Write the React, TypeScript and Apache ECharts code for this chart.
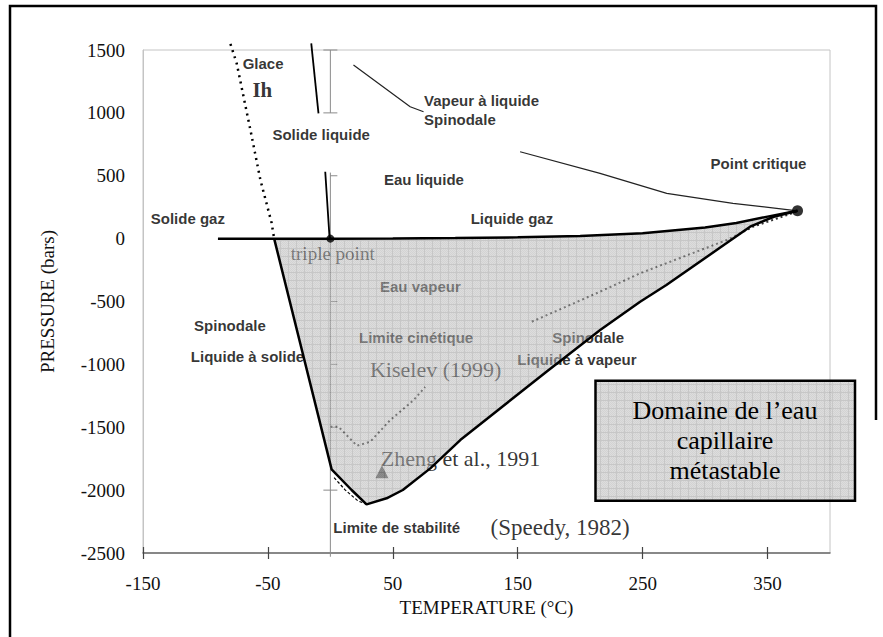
import React, { useEffect, useRef } from 'react';
import * as echarts from 'echarts';

// ---------- data (temperature °C, pressure bars) ----------
const xTickValues = [-150, -50, 50, 150, 250, 350];
const yMin = -2500;
const yMax = 1500;

// liquid–gas (and solid–gas) coexistence line up to the critical point
const tempLiquideGaz = [-90, -45, 0, 50, 100, 150, 200, 250, 300, 325, 350, 374];
const presLiquideGaz = [0, 0, 0, 1, 4, 10, 20, 42, 88, 125, 175, 221];

// spinodal / stability limit of liquid (bottom of the shaded domain)
const tempSpinodaleLiq = [-45, 1, 17, 29, 45, 58, 80, 104, 173, 216, 248, 269, 317, 336, 355, 374];
const presSpinodaleLiq = [0, -1835, -1999, -2113, -2065, -1999, -1827, -1602, -1058, -727, -502, -369, -37, 95, 174, 221];

// ice Ih dotted line
const tempGlace = [-80, -75, -64, -56, -47, -45];
const presGlace = [1548, 1394, 864, 466, 124, 0];

// melting line pieces
const tempFusionHaut = [-15.3, -9.5];
const presFusionHaut = [1553, 996];
const tempFusionBas = [-4.1, -0.7, 0];
const presFusionBas = [532, 15, 0];

// vapour-to-liquid spinodal
const tempVapSpinA = [18.5, 63.9, 74.6];
const presVapSpinA = [1380, 1049, 1009];
const tempVapSpinB = [151.9, 215.9, 269.3, 322.3, 374];
const presVapSpinB = [691, 519, 360, 281, 221];

// Kiselev (1999) kinetic limit
const tempKiselevA = [0, 6.5, 21.3, 31.9, 47.9, 66.6, 75.9];
const presKiselevA = [-1496, -1496, -1647, -1615, -1443, -1284, -1180];
const tempKiselevB = [161.3, 215.9, 247.9, 317.4, 338.6, 369.4, 374];
const presKiselevB = [-661, -422, -276, -11, 95, 201, 221];

// short secondary dashed line near the minimum
const tempSpeedyBis = [3, 12, 22, 29];
const presSpeedyBis = [-1900, -2000, -2085, -2113];

// Zheng et al. 1991 inclusion
const zhengPoint = [41.3, -1854];
// remarkable points
const criticalPoint = [374, 221];
const triplePoint = [0, 0];

// ticks of the vertical axis drawn at T = 0
const zeroAxisTicks = [1500, 1000, 500, 0, -500, -1000, -1500, -2000];
const zeroAxisSegments = [[1500, 1000], [525, -2530]];

// annotations (anchor = left / middle of text)
const labelTexts = ['Glace', 'Ih', 'Solide liquide', 'Eau liquide', 'Solide gaz', 'Vapeur à liquide', 'Spinodale', 'Point critique', 'Liquide gaz', 'triple point', 'Eau vapeur', 'Limite cinétique', 'Kiselev (1999)', 'Spinodale', 'Liquide à vapeur', 'Spinodale', 'Liquide à solide', 'Zheng et al., 1991', 'Limite de stabilité', '(Speedy, 1982)'];
const labelTemps = [-70.6, -62.8, -46.8, 42.5, -144.2, 74.6, 74.6, 304, 111.9, -32.1, 39.3, 22.5, 31.3, 177.3, 149.3, -109.5, -112.1, 39.9, 2, 127.9];
const labelPres = [1394, 1182, 832, 470, 161, 1102, 949, 599, 161, -117, -381, -785, -1037, -783, -958, -693, -939, -1747, -2299, -2296];
const labelKinds = ['sans', 'ih', 'sans', 'sans', 'sans', 'sans', 'sans', 'sans', 'sans', 'triple', 'sans', 'sans', 'serif', 'sans', 'sans', 'sans', 'sans', 'serif', 'sans', 'serifL'];

const boxLines = ['Domaine de l’eau', 'capillaire', 'métastable'];

// ---------- helpers ----------
const SERIF = '"Liberation Serif", "Times New Roman", serif';
const SANS = '"Liberation Sans", Arial, sans-serif';

function zip(t: number[], p: number[]) {
  return t.map((v, i) => [v, p[i]]);
}

function makeTile(): string {
  const c = document.createElement('canvas');
  c.width = 8;
  c.height = 8;
  const ctx = c.getContext('2d') as CanvasRenderingContext2D;
  const img = ctx.createImageData(8, 8);
  for (let y = 0; y < 8; y++) {
    for (let x = 0; x < 8; x++) {
      let v: number;
      if (x === 0 || y === 0) v = 150;
      else if ((x + y) % 2 === 0) v = 172;
      else v = 190;
      const i = (y * 8 + x) * 4;
      img.data[i] = v;
      img.data[i + 1] = v;
      img.data[i + 2] = v;
      img.data[i + 3] = 135;
    }
  }
  ctx.putImageData(img, 0, 0);
  return c.toDataURL();
}

function labelStyle(kind: string) {
  if (kind === 'ih') return { fontFamily: SERIF, fontSize: 21, fontWeight: 'bold' as const, color: '#000' };
  if (kind === 'triple') return { fontFamily: SERIF, fontSize: 19, fontWeight: 'normal' as const, color: '#000' };
  if (kind === 'serif') return { fontFamily: SERIF, fontSize: 22, fontWeight: 'normal' as const, color: '#000' };
  if (kind === 'serifL') return { fontFamily: SERIF, fontSize: 23, fontWeight: 'normal' as const, color: '#000' };
  return { fontFamily: SANS, fontSize: 15, fontWeight: 'bold' as const, color: '#000' };
}

function lineSeries(data: number[][], z: number, style: any) {
  return {
    type: 'line',
    data,
    z,
    clip: false,
    silent: true,
    symbol: 'none',
    showSymbol: false,
    lineStyle: style,
  };
}

const plainNumber = (v: number) => String(v);

export default function App() {
  const ref = useRef<HTMLDivElement>(null);

  useEffect(() => {
    if (!ref.current) return;
    const chart = echarts.init(ref.current, undefined, { renderer: 'svg' });
    const tile = makeTile();
    const pattern = { image: tile, repeat: 'repeat', imageWidth: 8, imageHeight: 8 };

    const topEdge = zip(tempLiquideGaz, presLiquideGaz).filter((p) => p[0] >= -45);
    const bottomEdge = zip(tempSpinodaleLiq, presSpinodaleLiq).slice(0, -1).reverse();
    const overlayPolygon = topEdge.concat(bottomEdge);

    const option: any = {
      animation: false,
      backgroundColor: '#fff',
      grid: {
        left: 143,
        right: 53,
        top: 50,
        bottom: 84,
        show: true,
        borderColor: '#c4c4c4',
        borderWidth: 1,
        backgroundColor: 'transparent',
        outerBoundsMode: 'none',
      },
      xAxis: [
        {
          type: 'value',
          position: 'bottom',
          min: -150,
          max: 400,
          name: 'TEMPERATURE (°C)',
          nameLocation: 'middle',
          nameGap: 40,
          nameTextStyle: { fontFamily: SERIF, fontSize: 19, color: '#111' },
          axisLine: { show: true, onZero: false, lineStyle: { color: '#6a6a6a', width: 1.5 } },
          axisTick: { show: true, inside: false, length: 6, customValues: xTickValues, lineStyle: { color: '#444', width: 1.2 } },
          axisLabel: { customValues: xTickValues, fontFamily: SERIF, fontSize: 19, color: '#111', margin: 21, formatter: plainNumber },
          splitLine: { show: false },
        },
        {
          type: 'value',
          position: 'top',
          offset: -503,
          min: -150,
          max: 400,
          axisLine: { show: false, onZero: false },
          axisTick: { show: true, inside: false, length: 6, customValues: xTickValues, lineStyle: { color: '#444', width: 1.2 } },
          axisLabel: { show: false },
          splitLine: { show: false },
        },
      ],
      yAxis: {
        type: 'value',
        min: yMin,
        max: yMax,
        interval: 500,
        name: 'PRESSURE (bars)',
        nameLocation: 'middle',
        nameGap: 86,
        nameTextStyle: { fontFamily: SERIF, fontSize: 19, color: '#111' },
        axisLine: { show: true, onZero: false, lineStyle: { color: '#c4c4c4', width: 1 } },
        axisTick: { show: false },
        axisLabel: { fontFamily: SERIF, fontSize: 19, color: '#111', margin: 18, formatter: plainNumber },
        splitLine: { show: false },
      },
      series: [
        // vertical axis at T = 0
        {
          type: 'custom',
          z: 1,
          silent: true,
          clip: false,
          encode: { x: 0, y: [1, 2] },
          data: zeroAxisSegments.map((s) => [0, s[0], s[1]]),
          renderItem: (params: any, api: any) => {
            const a = api.coord([0, api.value(1)]);
            const b = api.coord([0, api.value(2)]);
            return {
              type: 'line',
              shape: { x1: a[0], y1: a[1], x2: b[0], y2: b[1] },
              style: { stroke: '#8a8a8a', lineWidth: 1 },
            };
          },
        },
        {
          type: 'custom',
          z: 1,
          silent: true,
          clip: false,
          data: zeroAxisTicks.map((v) => [0, v]),
          renderItem: (params: any, api: any) => {
            const v = api.value(1);
            const p = api.coord([0, v]);
            const both = v === 1500 || v === 1000 || v === -2000;
            return {
              type: 'line',
              shape: { x1: p[0] - (both ? 7 : 0), y1: p[1], x2: p[0] + 7, y2: p[1] },
              style: { stroke: '#8a8a8a', lineWidth: 1 },
            };
          },
        },
        // annotations
        {
          type: 'scatter',
          z: 2,
          silent: true,
          symbolSize: 1,
          itemStyle: { color: 'rgba(0,0,0,0)' },
          label: { show: true, position: 'right', distance: 0, formatter: '{b}' },
          data: labelTexts.map((t, i) => ({
            name: t,
            value: [labelTemps[i], labelPres[i]],
            label: labelStyle(labelKinds[i]),
          })),
        },
        // Zheng et al. triangle
        {
          type: 'scatter',
          z: 2,
          silent: true,
          symbol: 'triangle',
          symbolSize: 13,
          itemStyle: { color: '#2a2a2a' },
          data: [zhengPoint],
        },
        // Kiselev kinetic limit
        lineSeries(zip(tempKiselevA, presKiselevA), 2, { color: '#333', width: 2, type: [2, 3] }),
        lineSeries(zip(tempKiselevB, presKiselevB), 2, { color: '#333', width: 2, type: [2, 3] }),
        // translucent gridded overlay of the metastable domain
        {
          type: 'custom',
          z: 5,
          silent: true,
          clip: false,
          data: [[0, 0]],
          renderItem: (params: any, api: any) => {
            const pts = overlayPolygon.map((p) => api.coord(p));
            return {
              type: 'polygon',
              shape: { points: pts },
              style: { fill: pattern, stroke: null },
            };
          },
        },
        // black curves
        lineSeries(zip(tempGlace, presGlace), 8, { color: '#000', width: 2.5, type: [2, 4.5] }),
        lineSeries(zip(tempFusionHaut, presFusionHaut), 8, { color: '#000', width: 1.8 }),
        lineSeries(zip(tempFusionBas, presFusionBas), 8, { color: '#000', width: 1.8 }),
        lineSeries(zip(tempVapSpinA, presVapSpinA), 8, { color: '#222', width: 1.2 }),
        lineSeries(zip(tempVapSpinB, presVapSpinB), 8, { color: '#222', width: 1.2 }),
        lineSeries(zip(tempLiquideGaz, presLiquideGaz), 8, { color: '#000', width: 2.5 }),
        lineSeries(zip(tempSpinodaleLiq, presSpinodaleLiq), 8, { color: '#000', width: 2.5 }),
        lineSeries(zip(tempSpeedyBis, presSpeedyBis), 8, { color: '#000', width: 1.2, type: [3, 2] }),
        // critical and triple points
        {
          type: 'scatter',
          z: 10,
          silent: true,
          itemStyle: { color: '#000' },
          data: [
            { value: criticalPoint, symbolSize: 11 },
            { value: triplePoint, symbolSize: 8 },
          ],
        },
      ],
      graphic: [
        {
          type: 'polyline',
          z: 100,
          silent: true,
          shape: { points: [[876, 420], [876, 6], [10, 6], [10, 637]] },
          style: { stroke: '#000', lineWidth: 2.5, fill: null },
        },
        {
          type: 'rect',
          z: 100,
          silent: true,
          shape: { x: 595.5, y: 380.7, width: 259.5, height: 120 },
          style: { fill: pattern, stroke: '#000', lineWidth: 2.5 },
        },
        {
          type: 'text',
          z: 101,
          silent: true,
          style: {
            text: boxLines.join('\n'),
            x: 725,
            y: 440,
            align: 'center',
            verticalAlign: 'middle',
            fontFamily: SERIF,
            fontSize: 26,
            lineHeight: 30,
            fill: '#000',
          },
        },
      ],
    };

    chart.setOption(option);
    return () => {
      chart.dispose();
    };
  }, []);

  return (
    <div
      ref={ref}
      style={{ position: 'fixed', left: 0, top: 0, width: 883, height: 637, background: '#fff' }}
    />
  );
}
